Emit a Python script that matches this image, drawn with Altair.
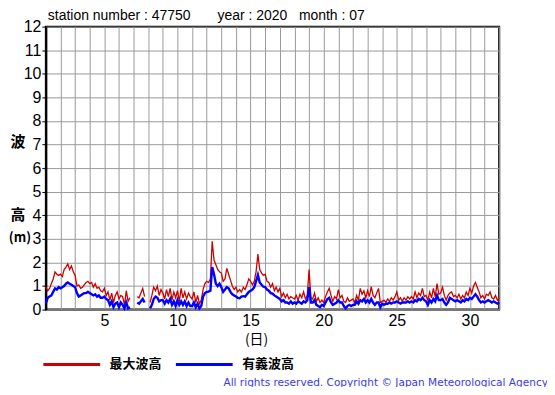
import altair as alt
import pandas as pd

station = "47750"
year = "2020"
month = "07"
series_names = ["最大波高", "有義波高"]
series_colors = ["#cc0000", "#0000ff"]
copyright_text = "All rights reserved. Copyright \u00a9 Japan Meteorological Agency"
y_title_parts = ["波", "高", "(m)"]

# 3-hourly readings, 8 per day, days 1..31 (None = missing)
max_wave = [
    [0.97, 0.8, 0.9, 1.1, 1.3, 1.6, 1.5, 1.45],
    [1.5, 1.4, 1.7, 1.8, 1.94, 1.7, 1.85, 1.6],
    [1.45, 1.0, 1.05, 0.9, 0.95, 1.05, 1.15, 1.2],
    [1.1, 1.15, 0.95, 1.1, 0.9, 0.95, 0.8, 0.75],
    [0.9, 0.6, 0.75, 0.4, 0.7, 0.3, 0.6, 0.75],
    [0.45, 0.6, 0.55, 0.2, 0.8, 0.35, 0.5, None],
    [0.3, None, 0.55, 0.5, 0.7, 0.9, 0.55, None],
    [None, 0.3, 0.6, 0.95, 0.8, 1.0, 0.6, 0.85],
    [0.7, 0.45, 0.85, 0.55, 0.9, 0.4, 0.75, 0.5],
    [0.8, 0.35, 0.9, 0.5, 0.75, 0.45, 0.7, 0.55],
    [0.45, 0.75, 0.3, 0.6, 0.25, 0.4, 0.85, 1.1],
    [1.2, 1.15, 1.3, 2.9, 2.1, 1.9, 1.7, 1.6],
    [1.55, 1.2, 1.3, 1.75, 1.5, 1.25, 1.0, 0.85],
    [0.95, 0.75, 0.85, 0.75, 0.95, 0.85, 1.05, 1.3],
    [1.2, 1.05, 1.2, 1.6, 2.35, 1.7, 1.55, 1.45],
    [1.5, 1.2, 1.15, 0.95, 1.1, 0.8, 0.95, 0.75],
    [0.9, 0.55, 0.7, 0.5, 0.65, 0.45, 0.55, 0.5],
    [0.45, 0.6, 0.4, 0.65, 0.5, 0.75, 0.45, 0.6],
    [1.7, 0.5, 0.45, 0.7, 0.35, 0.5, 0.3, 0.4],
    [0.3, 0.55, 0.75, 0.9, 0.6, 0.35, 0.55, 0.45],
    [0.85, 0.5, 0.6, 0.35, 0.3, 0.5, 0.35, 0.4],
    [0.45, 0.3, 0.6, 0.4, 0.9, 0.65, 0.8, 0.5],
    [0.8, 0.55, 0.97, 0.6, 0.5, 0.7, 0.9, 0.3],
    [0.35, 0.4, 0.3, 0.45, 0.35, 0.5, 0.4, 0.55],
    [0.75, 0.4, 0.5, 0.35, 0.5, 0.4, 0.55, 0.45],
    [0.55, 0.45, 0.75, 0.5, 0.7, 0.6, 0.9, 0.55],
    [0.6, 0.4, 0.75, 0.5, 0.9, 0.55, 1.1, 0.65],
    [0.7, 0.95, 0.6, 0.4, 0.6, 0.7, 0.75, 0.55],
    [0.6, 0.5, 0.65, 0.45, 0.6, 0.5, 0.75, 0.6],
    [0.9, 0.7, 1.0, 1.15, 0.95, 0.75, 0.5, 0.6],
    [0.45, 0.65, 0.6, 0.75, 0.5, 0.45, 0.6, 0.4],
    [0.5],
]

sig_wave = [
    [0.26, 0.5, 0.55, 0.6, 0.75, 0.9, 0.85, 0.95],
    [0.9, 0.95, 1.0, 1.1, 1.15, 1.1, 1.05, 1.0],
    [0.95, 0.7, 0.55, 0.6, 0.65, 0.7, 0.7, 0.75],
    [0.7, 0.65, 0.6, 0.65, 0.55, 0.6, 0.5, 0.5],
    [0.55, 0.45, 0.4, 0.2, 0.35, 0.1, 0.25, 0.3],
    [0.1, 0.3, 0.2, 0.05, 0.3, 0.05, 0.1, None],
    [0.05, None, 0.3, 0.25, 0.35, 0.45, 0.3, None],
    [None, 0.05, 0.2, 0.45, 0.55, 0.5, 0.35, 0.4],
    [0.4, 0.25, 0.4, 0.3, 0.45, 0.2, 0.35, 0.15],
    [0.4, 0.2, 0.35, 0.2, 0.35, 0.15, 0.3, 0.15],
    [0.15, 0.3, 0.1, 0.25, 0.05, 0.15, 0.55, 0.7],
    [0.75, 0.76, 0.8, 1.8, 1.5, 1.1, 1.0, 1.1],
    [0.95, 0.75, 0.85, 0.95, 0.9, 0.75, 0.65, 0.6],
    [0.55, 0.5, 0.48, 0.55, 0.57, 0.55, 0.65, 0.75],
    [0.8, 0.85, 0.95, 1.2, 1.47, 1.15, 1.05, 0.97],
    [0.95, 0.85, 0.8, 0.7, 0.68, 0.6, 0.55, 0.5],
    [0.45, 0.35, 0.4, 0.3, 0.3, 0.25, 0.35, 0.25],
    [0.3, 0.25, 0.35, 0.3, 0.25, 0.35, 0.3, 0.4],
    [0.95, 0.3, 0.3, 0.4, 0.2, 0.15, 0.1, 0.2],
    [0.15, 0.3, 0.45, 0.5, 0.3, 0.2, 0.25, 0.3],
    [0.4, 0.3, 0.3, 0.15, 0.05, 0.15, 0.2, 0.15],
    [0.2, 0.2, 0.35, 0.25, 0.4, 0.35, 0.45, 0.3],
    [0.4, 0.3, 0.45, 0.3, 0.2, 0.3, 0.3, 0.1],
    [0.25, 0.2, 0.25, 0.25, 0.3, 0.25, 0.3, 0.3],
    [0.35, 0.3, 0.25, 0.3, 0.3, 0.3, 0.35, 0.3],
    [0.35, 0.3, 0.4, 0.35, 0.45, 0.4, 0.5, 0.4],
    [0.35, 0.2, 0.4, 0.3, 0.45, 0.35, 0.6, 0.4],
    [0.4, 0.45, 0.3, 0.2, 0.3, 0.5, 0.45, 0.4],
    [0.35, 0.4, 0.35, 0.3, 0.4, 0.35, 0.45, 0.4],
    [0.5, 0.45, 0.55, 0.65, 0.55, 0.4, 0.3, 0.35],
    [0.3, 0.35, 0.4, 0.35, 0.3, 0.35, 0.3, 0.25],
    [0.3],
]

x_ticks = list(range(1, 33))
y_ticks = list(range(0, 13))

rows = []
for name, series in zip(series_names, [max_wave, sig_wave]):
    for d, day_vals in enumerate(series):
        for k, v in enumerate(day_vals):
            rows.append({"t": 1 + d + k / 8, "v": v, "s": name})
df = pd.DataFrame(rows)

color_scale = alt.Scale(domain=series_names, range=series_colors)

base = alt.Chart(df).encode(
    x=alt.X(
        "t:Q",
        scale=alt.Scale(domain=[1, 32], nice=False, zero=False),
        axis=alt.Axis(
            values=x_ticks,
            labelExpr="datum.value % 5 === 0 ? datum.label : ''",
            labelOverlap=False,
            grid=True,
            gridColor="#9a9a9a",
            gridWidth=1,
            ticks=False,
            domainColor="#777777",
            domainWidth=2,
            labelFont="Liberation Sans",
            labelFontSize=16,
            labelColor="black",
            labelPadding=3,
            title="(日)",
            titleFont="Noto Sans CJK JP",
            titleFontSize=14,
            titleFontWeight="normal",
            titleColor="black",
            titleX=211,
            titleY=30,
            titleAlign="center",
            titleBaseline="middle",
        ),
    ),
    y=alt.Y(
        "v:Q",
        scale=alt.Scale(domain=[0, 12], nice=False),
        axis=alt.Axis(
            values=y_ticks,
            labelOverlap=False,
            grid=True,
            gridColor="#9a9a9a",
            gridWidth=1,
            tickColor="black",
            tickSize=4,
            domainColor="black",
            domainWidth=2,
            labelFont="Liberation Sans",
            labelFontSize=16,
            labelColor="black",
            labelPadding=1,
            title=None,
        ),
    ),
    color=alt.Color(
        "s:N",
        scale=color_scale,
        legend=alt.Legend(
            title=None,
            orient="none",
            legendX=-4,
            legendY=309,
            direction="horizontal",
            symbolType="stroke",
            symbolSize=3249,
            symbolStrokeWidth=3,
            labelFont="Noto Sans CJK JP",
            labelFontSize=13,
            labelFontWeight="bold",
            labelColor="black",
            labelOffset=8,
            columnPadding=7,
            padding=0,
        ),
    ),
)

red = base.transform_filter(alt.datum.s == series_names[0]).mark_line(
    strokeWidth=1.3, invalid="break-paths-show-domains"
)
blue = base.transform_filter(alt.datum.s == series_names[1]).mark_line(
    strokeWidth=2.4, invalid="break-paths-show-domains"
)

one = pd.DataFrame({"c": [0]})


def label(text, x, y, align="left", font="Liberation Sans", size=14, weight="normal", color="black"):
    return alt.Chart(one).mark_text(
        text=text, align=align, baseline="middle", font=font, fontSize=size,
        fontWeight=weight, color=color,
    ).encode(x=alt.value(x), y=alt.value(y))


title_text = (
    f"station number : {station}" + "\u00a0" * 7 + f"year : {year}" + "\u00a0" * 3 + f"month : {month}"
)

annotations = [
    label(title_text, 2, -11),
    label(y_title_parts[0], -28, 116, align="center", font="Noto Sans CJK JP", size=15, weight="bold"),
    label(y_title_parts[1], -28, 189, align="center", font="Noto Sans CJK JP", size=15, weight="bold"),
    label(y_title_parts[2], -26, 212, align="center", font="Noto Sans CJK JP", size=13, weight="bold"),
    label(copyright_text, 504, 358, align="right", font="DejaVu Sans", size=10.6, color="#3a3ae6"),
]

chart = (
    alt.layer(red, blue, *annotations)
    .properties(
        width=455,
        height=284,
        autosize="none",
        padding={"left": 38, "top": 18, "right": 48, "bottom": 77},
    )
    .configure_view(stroke="black", strokeWidth=2)
)

chart.save("out.html", embed_options={"renderer": "svg", "actions": False})
